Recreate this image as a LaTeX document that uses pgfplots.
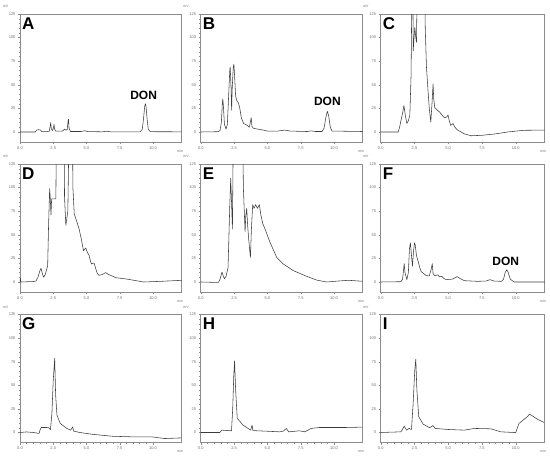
\documentclass[border=0pt]{standalone}
\usepackage{fontspec}
\setmainfont{Liberation Sans}
\usepackage{pgfplots}
\pgfplotsset{compat=1.18}
\definecolor{framegray}{RGB}{140,140,140}
\definecolor{tickgray}{RGB}{110,110,110}
\definecolor{linegray}{RGB}{60,60,60}
\pgfplotsset{
  chrom/.style={
    anchor=south west, scale only axis, height=128pt,
    xmin=0, xmax=12.15, ymin=-10.6, ymax=125,
    xtick={0,2.5,5,7.5,10}, xticklabels={0.0,2.5,5.0,7.5,10.0},
    ytick={0,25,50,75,100,125},
    minor x tick num=4, minor y tick num=4,
    tick pos=left, tick align=outside,
    major tick length=2pt, minor tick length=1.2pt,
    tick style={framegray, line width=0.3pt},
    axis line style={framegray, line width=0.5pt},
    ticklabel style={font=\fontsize{4}{4.5}\selectfont, text=tickgray},
    /pgf/number format/assume math mode=true,
    xticklabel style={yshift=1pt}, yticklabel style={xshift=1pt},
    clip=true,
  },
}
\tikzset{
  trace/.style={linegray, line width=0.55pt, mark=none, line join=round},
  plabel/.style={font=\fontsize{17}{17}\selectfont\bfseries, anchor=north west, inner sep=0pt},
  don/.style={font=\fontsize{12}{12}\selectfont\bfseries, inner sep=0pt},
  tinylbl/.style={font=\fontsize{3.5}{4}\selectfont, text=tickgray, inner sep=0pt},
}
\newcommand{\decor}[1]{%
  \node[plabel] at (rel axis cs:0.012,0.975) {#1};
  \node[tinylbl] at (rel axis cs:-0.09,1.06) {mV};
  \node[tinylbl] at (rel axis cs:0.99,-0.07) {min};
}
\begin{document}
\begin{tikzpicture}
% Row 1
\begin{axis}[chrom, at={(20pt,314pt)}, width=161.5pt, clip mode=individual]
\addplot[trace] coordinates {(0,0) (1.15,0) (1.25,2) (1.4,2.5) (1.55,2) (1.65,0.3) (2.0,0.3) (2.2,0.8) (2.27,6) (2.31,10) (2.36,3) (2.45,1.5) (2.52,5) (2.56,8) (2.6,3) (2.7,1) (3.2,1) (3.35,3) (3.45,2) (3.55,2.5) (3.62,12) (3.65,13.5) (3.69,4) (3.8,0.5) (4.6,0.5) (4.85,1.3) (5.1,0.4) (6.2,0.2) (6.5,0.8) (6.8,0.2) (9.05,0.2) (9.2,3) (9.3,15) (9.38,27) (9.43,30) (9.48,27) (9.56,14) (9.65,3) (9.8,0.3) (12.2,0.2)};
\decor{A}
\node[don] at (axis cs:9.3,39) {DON};
\end{axis}
\begin{axis}[chrom, at={(200.7pt,314pt)}, width=162pt, clip mode=individual]
\addplot[trace] coordinates {(0,0) (1.3,0.3) (1.45,1.5) (1.55,10) (1.62,30) (1.66,35) (1.7,28) (1.78,8) (1.9,3) (2.0,8) (2.1,40) (2.18,65) (2.21,69) (2.27,50) (2.32,23) (2.36,45) (2.44,68) (2.49,72) (2.54,60) (2.62,38) (2.71,33) (2.82,31) (2.92,26) (3.05,15) (3.22,9) (3.5,7) (3.65,5) (3.74,12) (3.79,15) (3.84,6) (3.95,4) (4.3,3) (4.7,2) (5.0,1) (5.8,1) (6.3,2) (6.7,1) (8.0,0.5) (8.3,1.2) (8.6,0.5) (9.1,0.5) (9.25,4) (9.38,15) (9.5,22) (9.6,17) (9.72,5) (9.85,1) (12.2,0.5)};
\decor{B}
\node[don] at (axis cs:9.5,32) {DON};
\end{axis}
\begin{axis}[chrom, at={(380.7pt,314pt)}, width=164pt, clip mode=individual]
\addplot[trace] coordinates {(0,0) (1.3,0) (1.4,5) (1.5,12) (1.62,20) (1.72,28) (1.82,18) (1.94,9) (2.05,12) (2.16,18) (2.25,60) (2.33,180) (2.38,150) (2.41,86) (2.47,100) (2.53,111) (2.6,100) (2.65,95) (2.7,150) (2.78,250) (3.0,260) (3.22,250) (3.3,110) (3.39,69) (3.5,45) (3.6,25) (3.71,10.5) (3.8,30) (3.88,51) (3.93,35) (4.0,26) (4.2,23) (4.37,21) (4.6,17) (4.74,15) (4.9,16) (4.99,18) (5.08,12) (5.18,7) (5.28,8) (5.36,9) (5.5,5) (5.7,2) (5.97,0) (6.2,-2) (6.7,-4) (7.5,-3.5) (8.5,-2) (9.4,0) (10.6,1.8) (12.2,2)};
\decor{C}
\end{axis}
% Row 2
\begin{axis}[chrom, at={(20pt,164pt)}, width=161.5pt, clip mode=individual]
\addplot[trace] coordinates {(0,0) (0.03,4) (0.06,0) (1.0,0.5) (1.2,1) (1.35,5) (1.5,12) (1.58,14.5) (1.68,9) (1.78,5) (1.9,8) (2.08,17) (2.15,60) (2.23,99) (2.28,88) (2.33,71) (2.38,88) (2.6,88) (2.7,88) (2.78,250) (3.1,260) (3.28,250) (3.35,90) (3.45,60) (3.6,75) (3.78,250) (3.9,250) (3.98,100) (4.08,72) (4.25,65) (4.45,56) (4.62,45) (4.78,33) (4.88,35) (4.95,36) (5.05,32) (5.2,28) (5.3,22) (5.38,19) (5.48,20) (5.58,20) (5.7,14) (5.82,9) (5.95,7) (6.2,8) (6.45,10) (6.65,8) (6.83,7) (7.2,4.6) (8.08,3) (9.3,0) (10.6,0.7) (12.2,1.8)};
\decor{D}
\end{axis}
\begin{axis}[chrom, at={(200.7pt,164pt)}, width=162pt, clip mode=individual]
\addplot[trace] coordinates {(0,0) (1.33,-0.5) (1.45,3) (1.6,10.5) (1.7,6) (1.78,3.5) (1.9,6) (2.05,15) (2.18,80) (2.25,110) (2.3,90) (2.38,56) (2.42,120) (2.48,250) (2.8,260) (3.08,250) (3.2,100) (3.33,53) (3.38,70) (3.45,78) (3.52,60) (3.6,45) (3.73,26) (3.8,55) (3.9,82) (4.0,78) (4.12,82) (4.25,78) (4.4,82) (4.5,72) (4.65,62) (4.83,56) (5.2,42) (5.7,26) (6.2,19) (6.95,12) (7.95,6) (8.7,2) (9.45,0) (10.3,1) (11.1,1.8) (12.2,0.7)};
\decor{E}
\end{axis}
\begin{axis}[chrom, at={(380.7pt,164pt)}, width=164pt, clip mode=individual]
\addplot[trace] coordinates {(0,0) (1.5,0.3) (1.62,3) (1.7,14) (1.74,19.5) (1.8,10) (1.94,2.5) (2.05,10) (2.13,35) (2.2,41.5) (2.27,30) (2.35,16.7) (2.43,32) (2.5,41.5) (2.55,40) (2.65,28) (2.77,22) (2.9,15) (3.0,11) (3.38,6.7) (3.6,6.5) (3.75,14) (3.82,19.5) (3.88,9) (4.0,6.7) (4.24,7.5) (4.35,5.5) (4.53,6) (4.65,4) (4.85,2.5) (5.3,3) (5.66,5.7) (5.9,3.5) (6.2,1.4) (7.18,0.7) (7.8,1) (8.1,2.5) (8.4,1) (8.95,0.7) (9.1,3) (9.22,10) (9.34,13) (9.45,10) (9.6,3) (9.88,0) (12.2,0)};
\decor{F}
\node[don] at (axis cs:9.26,22) {DON};
\end{axis}
% Row 3
\begin{axis}[chrom, at={(20pt,13.5pt)}, width=161.5pt, clip mode=individual]
\addplot[trace] coordinates {(0,0) (0.5,0.6) (1.0,0) (1.43,-1) (1.52,3) (1.6,5.3) (2.0,5.3) (2.17,5) (2.29,3) (2.4,20) (2.5,55) (2.61,78.7) (2.68,40) (2.78,18.4) (3.03,9.6) (3.52,4.3) (3.8,2.5) (3.93,5) (3.97,6) (4.03,1.5) (4.5,0) (5.5,-2) (6.97,-4) (8.45,-4.6) (9.9,-4.6) (10.9,-6.4) (12.2,-5.7)};
\decor{G}
\end{axis}
\begin{axis}[chrom, at={(200.7pt,13.5pt)}, width=162pt, clip mode=individual]
\addplot[trace] coordinates {(0,0) (1.44,0) (1.57,2.5) (2.31,1.8) (2.4,25) (2.48,60) (2.54,75.9) (2.62,45) (2.74,15) (3.18,7.8) (3.75,2.5) (3.85,7.8) (3.92,2) (4.9,1.4) (5.92,0.7) (6.2,1.5) (6.42,4.3) (6.6,0.7) (7.41,1.8) (7.8,0.7) (8.28,4.3) (8.9,5.3) (10.9,5.3) (12.1,5.7)};
\decor{H}
\end{axis}
\begin{axis}[chrom, at={(380.7pt,13.5pt)}, width=164pt, clip mode=individual]
\addplot[trace] coordinates {(0,0) (1.5,0.7) (1.6,3) (1.74,6.7) (1.92,2.5) (2.1,4.3) (2.28,3.2) (2.4,30) (2.52,65) (2.6,77.7) (2.68,45) (2.82,16.7) (3.14,8.9) (3.63,5) (3.87,7.4) (4.04,4.3) (4.98,3.2) (6.2,2.5) (6.94,4.3) (8.16,3.9) (8.9,0.7) (9.88,0) (10.0,-0.3) (10.1,4) (10.25,9.6) (10.86,16.7) (11.03,19.5) (11.6,14.2) (12.1,10.6)};
\decor{I}
\end{axis}
\pgfresetboundingbox
\path[use as bounding box] (0,0) rectangle (550pt,456pt);
\end{tikzpicture}
\end{document}
